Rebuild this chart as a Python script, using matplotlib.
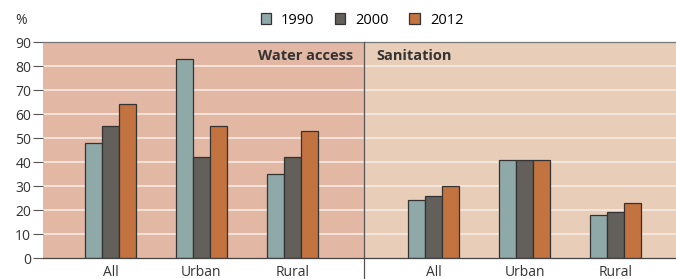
import matplotlib.pyplot as plt
from matplotlib.patches import Patch
import numpy as np

plt.rcParams['font.family'] = ['Open Sans', 'DejaVu Sans']

# data
categories = ['All', 'Urban', 'Rural', 'All', 'Urban', 'Rural']
years = ['1990', '2000', '2012']
v1990 = [48, 83, 35, 24, 41, 18]
v2000 = [55, 42, 42, 26, 41, 19]
v2012 = [64, 55, 53, 30, 41, 23]

colors = ['#8fa8a8', '#635f5b', '#c37340']
pos = np.array([0, 1, 2, 3.55, 4.55, 5.55])
w = 0.187

fig = plt.figure(figsize=(6.76, 2.79), dpi=100)
ax = fig.add_axes([43 / 676, 21 / 279, 633 / 676, 216 / 279])

xmin, xmax, divider = -0.74, 6.21, 2.78
ax.set_xlim(xmin, xmax)
ax.set_ylim(0, 90)

# panel backgrounds
ax.axvspan(xmin, divider, color='#e2b7a3', zorder=0, lw=0)
ax.axvspan(divider, xmax, color='#e8cdb8', zorder=0, lw=0)
for y in range(10, 90, 10):
    ax.axhline(y, color='#f6ebe4', lw=1.2, zorder=1)

for i, (vals, c) in enumerate(zip([v1990, v2000, v2012], colors)):
    ax.bar(pos + (i - 1) * w, vals, w, color=c, edgecolor='#333333', lw=0.9,
           zorder=3, label=years[i])

# divider line running below the axis
ax.plot([divider, divider], [-9, 90], color='#555555', lw=0.9, clip_on=False, zorder=4)

ax.text(2.66, 84, 'Water access', ha='right', va='center', fontsize=10.5,
        fontweight='bold', color='#333333')
ax.text(2.92, 84, 'Sanitation', ha='left', va='center', fontsize=10.5,
        fontweight='bold', color='#333333')

ax.set_xticks(pos)
ax.set_xticklabels(categories, fontsize=10, color='#333333')
ax.tick_params(axis='x', length=0, pad=5)
ax.set_yticks(range(0, 91, 10))
ax.tick_params(axis='y', length=7, width=0.8, color='#555555', labelsize=10,
               labelcolor='#333333', pad=1.5)

for s in ['left', 'right']:
    ax.spines[s].set_visible(False)
ax.spines['top'].set_color('#777777')
ax.spines['top'].set_linewidth(0.9)
ax.spines['bottom'].set_color('#444444')
ax.spines['bottom'].set_linewidth(0.9)
ax.spines['bottom'].set_zorder(5)

fig.text(21 / 676, 1 - 20 / 279, '%', fontsize=10, color='#333333', ha='center', va='center')

handles = [Patch(facecolor=c, edgecolor='#333333', lw=0.9) for c in colors]
fig.legend(handles, years, loc='center', bbox_to_anchor=(362 / 676, 1 - 20 / 279),
           ncol=3, frameon=False, fontsize=10.5, handlelength=0.7, handleheight=0.7,
           columnspacing=1.4, handletextpad=0.7, borderpad=0, borderaxespad=0)

fig.savefig('out.png', dpi=100)
